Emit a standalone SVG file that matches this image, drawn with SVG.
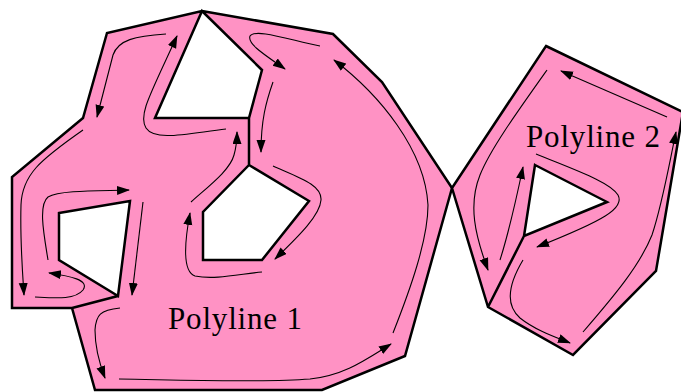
<svg xmlns="http://www.w3.org/2000/svg" width="681" height="392" viewBox="0 0 681 392">
<style>
.shape{fill:#ff92c4;fill-rule:evenodd;stroke:none}
.edge{fill:none;stroke:#000;stroke-width:2.5;stroke-linejoin:miter;stroke-linecap:round}
.flow{fill:none;stroke:#000;stroke-width:1.1}
.arr{marker-end:url(#ah)}
.lbl{font-family:"Liberation Serif","DejaVu Serif",serif;font-size:31px;fill:#000}
</style>
<defs>
<marker id="ah" markerUnits="userSpaceOnUse" markerWidth="14" markerHeight="10" refX="12" refY="4.5" orient="auto">
<path d="M0,0 L13,4.5 L0,9 Z" fill="#000"/>
</marker>
</defs>
<g id="polyline1">
<path class="shape" d="M202,11 L333,34 L382,82 L452,188 L405,356 L322,390 L95,390 L72,308 L12,308 L12,177 L83,118 L107,33 Z M202,11 L155,118 L249,118 L262,70 Z M249,165 L309,201 L262,260 L203,260 L203,212 Z M59,213 L130,201 L118,296 L59,260 Z"/>
<path class="edge" d="M202,11 L333,34 L382,82 L452,188 L405,356 L322,390 L95,390 L72,308 L12,308 L12,177 L83,118 L107,33 Z M202,11 L155,118 L249,118 L262,70 Z M249,165 L309,201 L262,260 L203,260 L203,212 Z M59,213 L130,201 L118,296 L59,260 Z M72,308 L118,296 M249,118 L249,165"/>
<text class="lbl" x="168" y="329" textLength="134" lengthAdjust="spacing">Polyline 1</text>
</g>
<g id="polyline2">
<path class="shape" d="M546,46 L683,112 L656,271 L573,355 L488,307 L452,188 Z M535,165 L607,202 L524,236 Z"/>
<path class="edge" d="M546,46 L683,112 L656,271 L573,355 L488,307 L452,188 Z M535,165 L607,202 L524,236 Z M524,236 L488,307"/>
<text class="lbl" x="526" y="147" textLength="134" lengthAdjust="spacing">Polyline 2</text>
</g>
<g id="connectors">
<path class="flow arr" d="M166,34 C 135,36 118,40 113,55 L 97,117"/>
<path class="flow arr" d="M226,129 C 190,133 155,142 146,128 C 138,115 150,95 177,36"/>
<path class="flow arr" d="M320,46 C 290,40 255,28 250,36 C 247,44 265,55 285,69"/>
<path class="flow arr" d="M273,82 C 266,102 261,120 261,152"/>
<path class="flow arr" d="M393,333 C 410,290 428,240 428,205 C 425,150 380,95 334,60"/>
<path class="flow arr" d="M273,166 C 300,178 322,185 321,200 C 320,215 300,235 275,259"/>
<path class="flow arr" d="M262,272 C 240,274 215,280 195,276 C 183,272 184,245 190,213"/>
<path class="flow arr" d="M191,202 C 210,185 230,170 234,155 C 236,148 237,140 237,132"/>
<path class="flow arr" d="M48,260 C 44,235 38,205 48,197 C 60,190 100,191 129,190"/>
<path class="flow arr" d="M83,130 C 40,160 22,175 21,205 C 20,240 22,265 24,295"/>
<path class="flow arr" d="M35,297 C 55,298 75,300 83,290 C 90,280 70,276 49,273"/>
<path class="flow arr" d="M143,202 L 132,295"/>
<path class="flow arr" d="M120,308 C 100,310 96,315 95,330 C 95,350 100,365 105,378"/>
<path class="flow arr" d="M119,379 C 180,380 260,383 310,379 C 345,375 365,360 391,344"/>
<path class="flow arr" d="M547,70 C 515,115 490,150 480,175 C 468,205 475,235 488,270"/>
<path class="flow arr" d="M667,117 L 561,71"/>
<path class="flow arr" d="M583,332 C 615,295 640,265 652,235 C 662,205 668,170 676,132"/>
<path class="flow arr" d="M536,154 C 575,170 610,182 618,195 C 625,208 605,220 537,247"/>
<path class="flow arr" d="M500,260 C 508,235 515,205 523,167"/>
<path class="flow arr" d="M523,260 C 508,285 505,305 520,318 C 535,330 555,337 570,343"/>
</g>
</svg>
